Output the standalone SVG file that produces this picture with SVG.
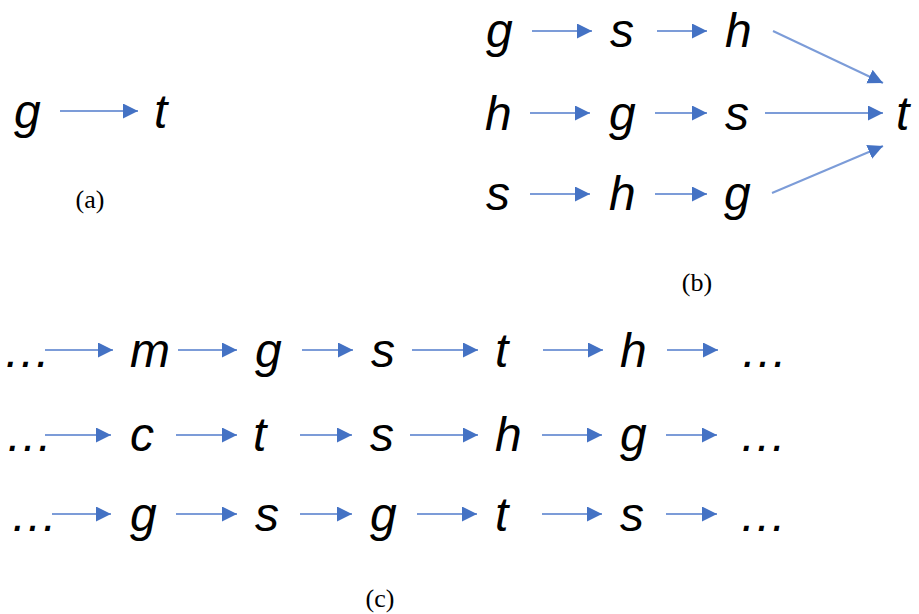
<svg xmlns="http://www.w3.org/2000/svg" width="919" height="614" viewBox="0 0 919 614">
<style>
.n{font-family:"Liberation Sans",Arial,sans-serif;font-style:italic;font-size:48px;fill:#000}
.lb{font-family:"Liberation Serif","Times New Roman",serif;font-size:26px;fill:#000;text-anchor:middle}
.c line{stroke:#7C9CD8;stroke-width:2;marker-end:url(#ah)}
</style>
<defs>
<marker id="ah" markerUnits="userSpaceOnUse" markerWidth="16" markerHeight="16" refX="15" refY="7.5" orient="auto">
<path d="M0,0 L15,7.5 L0,15 z" fill="#4472C4"/>
</marker>
</defs>
<rect width="919" height="614" fill="#fff"/>
<!-- (a) -->
<g id="a-g"><text class="n" x="14" y="128">g</text></g>
<g id="a-t"><text class="n" x="154" y="128">t</text></g>
<text class="lb" x="90" y="208">(a)</text>
<!-- (b) -->
<g id="b1-g"><text class="n" x="486" y="47">g</text></g>
<g id="b1-s"><text class="n" x="610" y="47">s</text></g>
<g id="b1-h"><text class="n" x="725" y="47">h</text></g>
<g id="b2-h"><text class="n" x="485" y="130">h</text></g>
<g id="b2-g"><text class="n" x="609" y="130">g</text></g>
<g id="b2-s"><text class="n" x="725" y="130">s</text></g>
<g id="b-t"><text class="n" x="896" y="130">t</text></g>
<g id="b3-s"><text class="n" x="486" y="210">s</text></g>
<g id="b3-h"><text class="n" x="609" y="210">h</text></g>
<g id="b3-g"><text class="n" x="724" y="210">g</text></g>
<text class="lb" x="697" y="291">(b)</text>
<!-- (c) row 1 -->
<g id="c1-e0"><text class="n" x="3" y="367">…</text></g>
<g id="c1-m"><text class="n" x="130" y="367">m</text></g>
<g id="c1-g"><text class="n" x="255" y="367">g</text></g>
<g id="c1-s"><text class="n" x="371" y="367">s</text></g>
<g id="c1-t"><text class="n" x="495" y="367">t</text></g>
<g id="c1-h"><text class="n" x="620" y="367">h</text></g>
<g id="c1-e1"><text class="n" x="740" y="367">…</text></g>
<!-- row 2 -->
<g id="c2-e0"><text class="n" x="5" y="451">…</text></g>
<g id="c2-c"><text class="n" x="130" y="451">c</text></g>
<g id="c2-t"><text class="n" x="253" y="451">t</text></g>
<g id="c2-s"><text class="n" x="370" y="451">s</text></g>
<g id="c2-h"><text class="n" x="495" y="451">h</text></g>
<g id="c2-g"><text class="n" x="620" y="451">g</text></g>
<g id="c2-e1"><text class="n" x="739" y="451">…</text></g>
<!-- row 3 -->
<g id="c3-e0"><text class="n" x="10" y="531">…</text></g>
<g id="c3-g"><text class="n" x="130" y="531">g</text></g>
<g id="c3-s"><text class="n" x="255" y="531">s</text></g>
<g id="c3-g2"><text class="n" x="370" y="531">g</text></g>
<g id="c3-t"><text class="n" x="495" y="531">t</text></g>
<g id="c3-s2"><text class="n" x="620" y="531">s</text></g>
<g id="c3-e1"><text class="n" x="739" y="531">…</text></g>
<text class="lb" x="380" y="607">(c)</text>
<g id="connectors" class="c">
<line x1="60" y1="111" x2="138" y2="111"/>
<line x1="532" y1="31" x2="592" y2="31"/>
<line x1="657" y1="31" x2="707" y2="31"/>
<line x1="773" y1="31" x2="883" y2="83"/>
<line x1="530" y1="113" x2="590" y2="113"/>
<line x1="655" y1="113" x2="707" y2="113"/>
<line x1="765" y1="113" x2="883" y2="113"/>
<line x1="530" y1="194" x2="590" y2="194"/>
<line x1="655" y1="194" x2="707" y2="194"/>
<line x1="772" y1="193" x2="883" y2="146"/>
<line x1="45" y1="350" x2="113" y2="350"/>
<line x1="178" y1="350" x2="237" y2="350"/>
<line x1="302" y1="350" x2="353" y2="350"/>
<line x1="412" y1="350" x2="478" y2="350"/>
<line x1="543" y1="350" x2="603" y2="350"/>
<line x1="667" y1="350" x2="718" y2="350"/>
<line x1="45" y1="435" x2="111" y2="435"/>
<line x1="176" y1="435" x2="237" y2="435"/>
<line x1="300" y1="435" x2="352" y2="435"/>
<line x1="410" y1="435" x2="478" y2="435"/>
<line x1="542" y1="435" x2="602" y2="435"/>
<line x1="666" y1="435" x2="717" y2="435"/>
<line x1="52" y1="514" x2="111" y2="514"/>
<line x1="176" y1="514" x2="237" y2="514"/>
<line x1="300" y1="514" x2="352" y2="514"/>
<line x1="417" y1="514" x2="477" y2="514"/>
<line x1="542" y1="514" x2="602" y2="514"/>
<line x1="666" y1="514" x2="717" y2="514"/>
</g>
</svg>
